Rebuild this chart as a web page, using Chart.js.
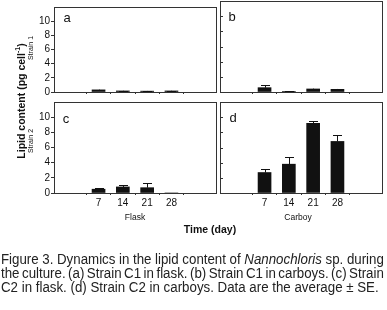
<!DOCTYPE html>
<html>
<head>
<meta charset="utf-8">
<script src="https://cdn.jsdelivr.net/npm/chart.js@4.4.0/dist/chart.umd.min.js"></script>
<style>
  html, body { margin: 0; padding: 0; background: #fff; }
  #wrap { position: relative; width: 387px; height: 310px; overflow: hidden; font-family: "Liberation Sans", Arial, sans-serif; color: #111; }
  #wrap canvas { position: absolute; left: 0; top: 0; }
  .t { position: absolute; white-space: nowrap; line-height: 1; }
  .rot { transform: translate(-50%, -50%) rotate(-90deg); }
  .ctr { transform: translate(-50%, -50%); }
  #cap { position: absolute; left: 1px; top: 252px; width: 403px; transform: scaleX(0.95); transform-origin: 0 0; font-family: "Liberation Sans", Arial, sans-serif; font-size: 14px; line-height: 14px; color: #222; }
  #cap div { text-align: justify; text-align-last: justify; white-space: nowrap; word-spacing: -3px; }
</style>
</head>
<body>
<div id="wrap">
  <canvas id="pa" width="387" height="310"></canvas>
  <canvas id="pb" width="387" height="310"></canvas>
  <canvas id="pc" width="387" height="310"></canvas>
  <canvas id="pd" width="387" height="310"></canvas>

  <div class="t rot" style="left:20px; top:101px; font-size:10.5px; font-weight:bold;">Lipid content (pg cell<sup style="font-size:7px;">-1</sup>)</div>
  <div class="t rot" style="left:30px; top:48px; font-size:7px;">Strain 1</div>
  <div class="t rot" style="left:30px; top:141px; font-size:7px;">Strain 2</div>

  <div class="t ctr" style="left:67px; top:17px; font-size:13px;">a</div>
  <div class="t ctr" style="left:232px; top:16px; font-size:13px;">b</div>
  <div class="t ctr" style="left:66px; top:118px; font-size:13px;">c</div>
  <div class="t ctr" style="left:233px; top:117px; font-size:13px;">d</div>

  <div class="t ctr" style="left:135px; top:217px; font-size:8.5px;">Flask</div>
  <div class="t ctr" style="left:298px; top:217px; font-size:8.5px;">Carboy</div>
  <div class="t ctr" style="left:210px; top:229px; font-size:10.5px; font-weight:bold;">Time (day)</div>

  <div id="cap">
    <div>Figure 3. Dynamics in the lipid content of <i>Nannochloris</i> sp. during</div>
    <div>the culture. (a) Strain C1 in flask. (b) Strain C1 in carboys. (c) Strain</div>
    <div style="text-align-last:left; word-spacing:0;">C2 in flask. (d) Strain C2 in carboys. Data are the average &plusmn; SE.</div>
  </div>
</div>

<script>
// Sampling days (x categories)
const days = [7, 14, 21, 28];
const yTicks = [0, 2, 4, 6, 8, 10];

// Lipid content, pg per cell
const flaskC1 = [0.3, 0.15, 0.12, 0.15];
const flaskC1Err = [0.05, 0.03, 0.03, 0.03];
const carboyC1 = [0.57, 0.08, 0.4, 0.35];
const carboyC1Err = [0.35, 0.03, 0.05, 0.05];
const flaskC2 = [0.5, 0.8, 0.7, 0];
const flaskC2Err = [0.1, 0.25, 0.6, 0];
const carboyC2 = [2.7, 3.8, 9.2, 6.8];
const carboyC2Err = [0.45, 0.9, 0.25, 0.85];

const ink = '#111';
const lineCol = '#333';
const tickFont = { family: '"Liberation Sans", Arial, sans-serif', size: 10 };
const Y_W = 30;   // room kept for y tick labels
const X_H = 20;   // room kept for x tick labels

// Frame round the plot area, plus inward y ticks for the right-hand panels
const framePlugin = {
    id: 'frame',
    afterDraw(chart, args, opts) {
        const a = chart.chartArea;
        const ctx = chart.ctx;
        ctx.save();
        ctx.strokeStyle = lineCol;
        ctx.lineWidth = 1;
        ctx.strokeRect(Math.round(a.left) + 0.5, Math.round(a.top) + 0.5,
            Math.round(a.right - a.left), Math.round(a.bottom - a.top));
        if (opts.innerTicks) {
            const ys = chart.scales.y;
            ctx.beginPath();
            yTicks.forEach(v => {
                const py = Math.round(ys.getPixelForValue(v)) + 0.5;
                ctx.moveTo(a.left, py);
                ctx.lineTo(a.left + 3, py);
            });
            ctx.stroke();
        }
        ctx.restore();
    }
};

// Upper error whiskers (+SE)
const errorPlugin = {
    id: 'errbars',
    afterDatasetsDraw(chart) {
        const ctx = chart.ctx;
        const ys = chart.scales.y;
        chart.data.datasets.forEach((ds, di) => {
            const meta = chart.getDatasetMeta(di);
            meta.data.forEach((bar, i) => {
                const err = ds.errors[i];
                if (!err) return;
                const top = ys.getPixelForValue(ds.data[i].y + err);
                const x = Math.round(bar.x) + 0.5;
                ctx.save();
                ctx.strokeStyle = ink;
                ctx.lineWidth = 1;
                ctx.beginPath();
                ctx.moveTo(x, bar.y);
                ctx.lineTo(x, top);
                ctx.moveTo(x - 4.5, Math.round(top) + 0.5);
                ctx.lineTo(x + 4.5, Math.round(top) + 0.5);
                ctx.stroke();
                ctx.restore();
            });
        });
    }
};

function makePanel(canvasId, box, values, errors, leftPanel, showXLabels) {
    const config = {
        type: 'bar',
        data: {
            datasets: [{
                data: days.map((d, i) => ({ x: d, y: values[i] })),
                errors: errors,
                backgroundColor: ink,
                borderWidth: 0,
                barThickness: 13
            }]
        },
        options: {
            responsive: false,
            animation: false,
            events: [],
            layout: {
                padding: { left: box.l - Y_W, top: box.t, right: 387 - box.r, bottom: 310 - box.b - X_H }
            },
            plugins: {
                legend: { display: false },
                tooltip: { enabled: false },
                frame: { innerTicks: !leftPanel }
            },
            scales: {
                x: {
                    type: 'linear',
                    min: 0,
                    max: 35,
                    afterBuildTicks: (s) => { s.ticks = days.map(v => ({ value: v })); },
                    afterFit: (s) => { s.height = X_H; },
                    border: { display: false },
                    grid: { drawOnChartArea: false, drawTicks: true, tickLength: 2, color: lineCol },
                    ticks: { display: showXLabels, color: ink, font: tickFont, padding: 2, maxRotation: 0, autoSkip: false }
                },
                y: {
                    min: 0,
                    max: 12,
                    afterBuildTicks: (s) => { s.ticks = yTicks.map(v => ({ value: v })); },
                    afterFit: (s) => { s.width = Y_W; },
                    border: { display: false },
                    grid: { drawOnChartArea: false, drawTicks: leftPanel, tickLength: 3, color: lineCol },
                    ticks: { display: leftPanel, color: ink, font: tickFont, padding: 1, autoSkip: false }
                }
            }
        },
        plugins: [framePlugin, errorPlugin]
    };
    return new Chart(document.getElementById(canvasId).getContext('2d'), config);
}

makePanel('pa', { l: 54, t: 1, r: 216, b: 92 }, flaskC1, flaskC1Err, true, false);
makePanel('pb', { l: 220, t: 1, r: 382, b: 92 }, carboyC1, carboyC1Err, false, false);
makePanel('pc', { l: 54, t: 102, r: 216, b: 193 }, flaskC2, flaskC2Err, true, true);
makePanel('pd', { l: 220, t: 102, r: 382, b: 193 }, carboyC2, carboyC2Err, false, true);
</script>
</body>
</html>
